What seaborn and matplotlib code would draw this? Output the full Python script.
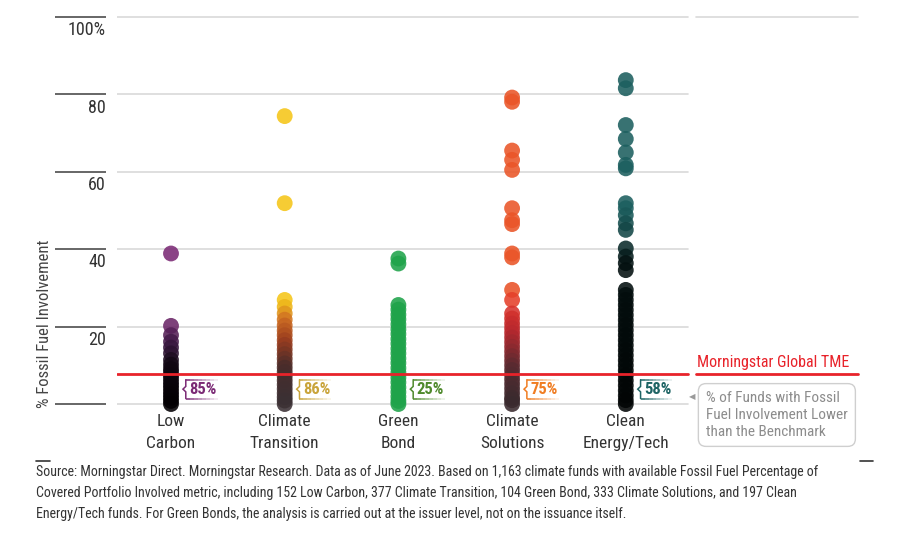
import numpy as np
import pandas as pd
import matplotlib
matplotlib.use("Agg")
import matplotlib.pyplot as plt
import matplotlib.transforms as mtrans
from matplotlib.colors import LinearSegmentedColormap
from matplotlib.lines import Line2D
from matplotlib import font_manager as fm
import seaborn as sns

# ---------------- data ----------------
categories = ["Low\nCarbon", "Climate\nTransition", "Green\nBond", "Climate\nSolutions", "Clean\nEnergy/Tech"]

low_carbon = [38.9, 20.2, 17.8, 16.1, 14.6, 13.1, 11.4, 10.2, 9.1, 8.3, 7.4, 6.6, 5.7,
              4.9, 4.1, 3.2, 2.4, 1.6, 0.8, 0.0]
climate_transition = [74.4, 51.9, 26.9, 25.1, 23.4, 21.8, 20.3, 19.0, 17.8, 16.5, 15.3,
                      14.1, 12.9, 11.7, 10.5, 9.4, 8.3, 7.2, 6.1, 5.0, 3.9, 2.8, 1.8, 0.9, 0.0]
green_bond = [37.6, 36.3, 25.6, 24.4, 23.1, 21.9, 20.6, 19.3, 18.1, 16.8, 15.6, 14.3,
              13.1, 11.8, 10.6, 9.3, 8.1, 6.8, 5.6, 4.3, 3.1, 1.9, 0.8, 0.0]
climate_solutions = [79.2, 78.1, 65.5, 63.1, 60.5, 50.6, 47.5, 46.5, 38.9, 37.9, 29.5,
                     26.9, 23.4, 22.1, 20.8, 19.6, 18.4, 17.2, 16.0, 14.8, 13.6, 12.4,
                     11.2, 10.0, 8.8, 7.6, 6.4, 5.2, 4.0, 2.8, 1.6, 1.0, 0.0]
clean_energy = [83.7, 81.6, 72.1, 68.5, 65.0, 61.8, 60.9, 51.9, 50.6, 48.8, 46.7, 45.0,
                40.2, 38.1, 36.4, 34.6, 29.5, 28.2, 26.9, 25.6, 24.3, 23.0, 21.7, 20.4,
                19.1, 17.8, 16.5, 15.2, 13.9, 12.6, 11.3, 10.0, 8.7, 7.4, 6.1, 4.8,
                3.5, 2.2, 1.0, 0.0]
series = [low_carbon, climate_transition, green_bond, climate_solutions, clean_energy]

pct_below = ["85%", "86%", "25%", "75%", "58%"]
benchmark = 7.75
yticks = [0, 20, 40, 60, 80, 100]
ytick_labels = ["", "20", "40", "60", "80", "100%"]

footer = ("Source: Morningstar Direct. Morningstar Research. Data as of June 2023. Based on 1,163 climate funds with available Fossil Fuel Percentage of\n"
          "Covered Portfolio Involved metric, including 152 Low Carbon, 377 Climate Transition, 104 Green Bond, 333 Climate Solutions, and 197 Clean\n"
          "Energy/Tech funds. For Green Bonds, the analysis is carried out at the issuer level, not on the issuance itself.")

# ---------------- styles ----------------
sns.set_theme(style="white")
avail = {f.name for f in fm.fontManager.ttflist}
fam = None
for cand in ["Roboto Condensed", "Liberation Sans Narrow", "DejaVu Sans Condensed", "Roboto", "DejaVu Sans"]:
    if cand in avail:
        fam = cand
        break
plt.rcParams["font.family"] = [fam, "DejaVu Sans"]

cmaps = [
    LinearSegmentedColormap.from_list("lc", [(0, "#030003"), (0.45, "#120814"), (0.7, "#3e1a45"), (1.0, "#7B2A75")]),
    LinearSegmentedColormap.from_list("ct", [(0, "#3b3034"), (0.35, "#4a2c2a"), (0.6, "#9a3d1f"), (0.82, "#cf6d22"), (1.0, "#F5C518")]),
    LinearSegmentedColormap.from_list("gb", [(0, "#1FA34A"), (1.0, "#1FA34A")]),
    LinearSegmentedColormap.from_list("cs", [(0, "#3a2a2e"), (0.3, "#5a2a30"), (0.6, "#b8282e"), (0.85, "#e3362b"), (1.0, "#EA5528")]),
    LinearSegmentedColormap.from_list("ce", [(0, "#020505"), (0.72, "#031010"), (0.86, "#0f3c3c"), (1.0, "#1C5F5F")]),
]
norm_top = [22, 26, 30, 30, 50]
pct_colors = ["#7B2A75", "#C9A43A", "#4F8A2C", "#F07D22", "#1D6464"]

fig = plt.figure(figsize=(9.03, 5.36), dpi=100)
ax = fig.add_axes([117 / 903, (536 - 435) / 536, 743 / 903, 425.7 / 536])
ax.set_xlim(-0.475, 6.06)
ax.set_ylim(-8, 102)
for s in ax.spines.values():
    s.set_visible(False)

# gridlines
xend = (688 - 117) / 743
for v in yticks:
    ax.axhline(v, xmin=0, xmax=xend, color="#d9d9d9", lw=1.2, zorder=0)
ax.axhline(100, xmin=(696 - 117) / 743, xmax=(858 - 117) / 743, color="#d9d9d9", lw=1.2, zorder=0)

# left tick segments and labels
blend = mtrans.blended_transform_factory(ax.transAxes, ax.transData)
for v, lab in zip(yticks, ytick_labels):
    ax.plot([-0.0834, -0.0148], [v, v], transform=blend, color="#666666", lw=1.4,
            clip_on=False, solid_capstyle="butt")
    if lab:
        ax.annotate(lab, xy=(-0.0148, v), xycoords=blend, xytext=(0, -3),
                    textcoords="offset points", ha="right", va="top",
                    fontsize=13, color="#333333")

# points
for i, vals in enumerate(series):
    df = pd.DataFrame({"x": [i] * len(vals), "y": vals})
    df = df.sort_values("y", ascending=False)
    sns.scatterplot(data=df, x="x", y="y", hue="y", palette=cmaps[i],
                    hue_norm=(0, norm_top[i]), s=130, alpha=0.88, linewidth=0,
                    legend=False, ax=ax, zorder=3, clip_on=False)

# benchmark line
ax.axhline(benchmark, xmin=0, xmax=xend, color="#E8232A", lw=2, zorder=4)
ax.axhline(benchmark, xmin=(696 - 117) / 743, xmax=(858 - 117) / 743, color="#E8232A", lw=2, zorder=4)
ax.annotate("Morningstar Global TME", xy=((697 - 117) / 743, benchmark), xycoords=blend,
            xytext=(0, 3), textcoords="offset points", ha="left", va="bottom",
            fontsize=11.5, color="#E8232A")

# percentage brackets
for i, (txt, col) in enumerate(zip(pct_below, pct_colors)):
    x0 = i + 0.13
    yt, yb, ym = 6.3, 1.4, 3.85
    ax.plot([x0, x0, x0 - 0.025, x0, x0], [yt, ym + 0.7, ym, ym - 0.7, yb],
            color=col, lw=1.1, zorder=5, solid_joinstyle="miter")
    nseg = 8
    for k in range(nseg):
        a = 1 - k / nseg
        xs = [x0 + 0.035 * k, x0 + 0.035 * (k + 1)]
        ax.plot(xs, [yt, yt], color=col, lw=1.1, alpha=a, zorder=5, solid_capstyle="butt")
        ax.plot(xs, [yb, yb], color=col, lw=1.1, alpha=a, zorder=5, solid_capstyle="butt")
    ax.text(x0 + 0.03, ym, txt, color=col, fontsize=12, fontweight="bold",
            ha="left", va="center", zorder=6)

# x labels (placed just under the zero line)
ax.set_xticks([])
for i, lab in enumerate(categories):
    ax.text(i, -2.7, lab, ha="center", va="top", fontsize=12.5, color="#333333",
            linespacing=1.55)
ax.set_yticks([])
ax.set_xlabel("")
ax.set_ylabel("")

# y label
fig.text(45 / 903, 1 - 324 / 536, "% Fossil Fuel Involvement", rotation=90,
         ha="center", va="center", fontsize=12, color="#444444")

# legend-like box
fig.text(706 / 903, 1 - 415 / 536,
         "% of Funds with Fossil\nFuel Involvement Lower\nthan the Benchmark",
         ha="left", va="center", fontsize=11, color="#8c8c8c", linespacing=1.25,
         bbox=dict(boxstyle="round,pad=0.5,rounding_size=0.5", fc="white", ec="#cfcfcf", lw=1))
fig.text(692 / 903, 1 - 397 / 536, "\u25C0", ha="center", va="center", fontsize=6, color="#9a9a9a")

# footer
for x1, x2 in [(36, 50), (860, 873)]:
    fig.add_artist(Line2D([x1 / 903, x2 / 903], [1 - 461 / 536, 1 - 461 / 536],
                          color="#333333", lw=1.2, transform=fig.transFigure))
fig.text(36 / 903, 1 - 465 / 536, footer, ha="left", va="top", fontsize=10,
         color="#333333", linespacing=1.62)

fig.savefig("out.png", dpi=100)
